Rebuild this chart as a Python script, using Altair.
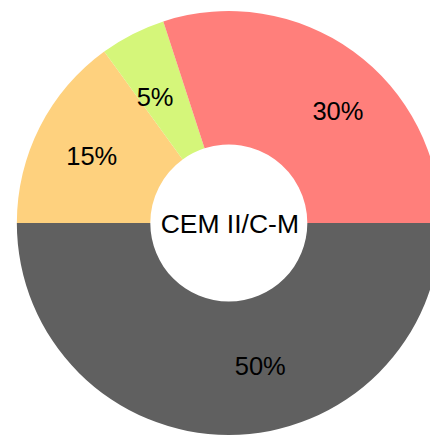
import math
import altair as alt
import pandas as pd

categories = ["50%", "15%", "5%", "30%"]
values = [50, 15, 5, 30]
colors = ["#606060", "#FED17E", "#D5F67A", "#FF7F7B"]
center_label = "CEM II/C-M"

df = pd.DataFrame({"cat": categories, "value": values, "order": list(range(len(values)))})

theta_range = [math.pi / 2, math.pi / 2 + 2 * math.pi]
cx, cy = 225, 215

arcs = alt.Chart(df).mark_arc(innerRadius=80, outerRadius=216).encode(
    theta=alt.Theta("value:Q", stack=True, scale=alt.Scale(range=theta_range)),
    order=alt.Order("order:Q"),
    color=alt.Color("cat:N", scale=alt.Scale(domain=categories, range=colors), legend=None),
    x=alt.value(cx),
    y=alt.value(cy),
)

# small label offsets (style) to mimic the original label placement
label_offsets = {"50%": (32, -3), "15%": (-6, 1), "5%": (-7, 6), "30%": (23, 8)}

stacked = (
    alt.Chart(df)
    .transform_stack(stack="value", as_=["v0", "v1"], groupby=[], sort=[alt.SortField("order", "ascending")])
    .transform_calculate(mid="(datum.v0 + datum.v1) / 2")
)

layers = [arcs]
for cat in categories:
    ox, oy = label_offsets[cat]
    layers.append(
        stacked.transform_filter(alt.datum.cat == cat)
        .mark_text(radius=150, fontSize=26, font="Liberation Sans", color="black", dx=ox, dy=oy)
        .encode(
            theta=alt.Theta("mid:Q", scale=alt.Scale(domain=[0, 100], range=theta_range)),
            text="cat:N",
            x=alt.value(cx),
            y=alt.value(cy),
        )
    )

center = alt.Chart(pd.DataFrame({"t": [center_label]})).mark_text(
    fontSize=27, font="Liberation Sans", color="black"
).encode(text="t:N", x=alt.value(cx + 1), y=alt.value(cy + 2))
layers.append(center)

chart = alt.layer(*layers).resolve_scale(theta="independent").properties(
    width=430, height=433, padding=0, autosize=alt.AutoSizeParams(type="none")
).configure_view(stroke=None)

chart.save("out.html", embed_options={"renderer": "svg", "actions": False})
